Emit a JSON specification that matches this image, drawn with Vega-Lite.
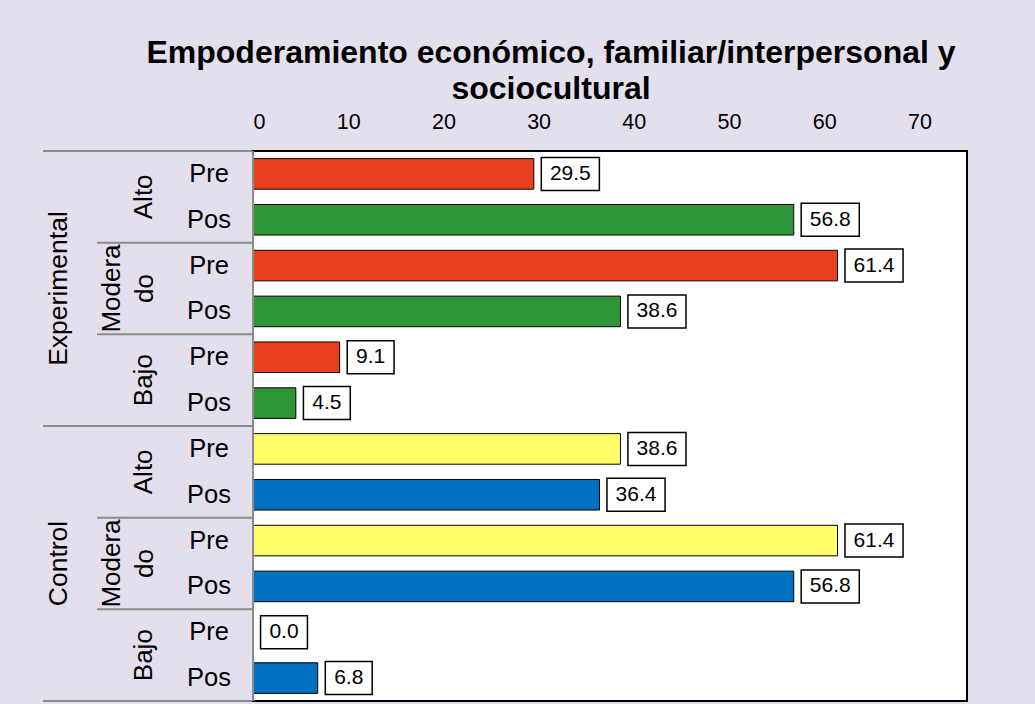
{
  "$schema": "https://vega.github.io/schema/vega-lite/v6.json",
  "background": "#E4DFEC",
  "padding": {"left": 42, "top": 37, "right": 69, "bottom": 4},
  "title": {
    "text": ["Empoderamiento económico, familiar/interpersonal y", "sociocultural"],
    "fontSize": 32, "fontWeight": "bold", "font": "Liberation Sans", "color": "#000",
    "anchor": "middle", "dx": 46, "lineHeight": 36, "offset": 4
  },
  "datasets": {
    "d": [
      {"id": "E-Alto-Pre", "grupo": "Experimental", "nivel": "Alto", "momento": "Pre", "valor": 29.5},
      {"id": "E-Alto-Pos", "grupo": "Experimental", "nivel": "Alto", "momento": "Pos", "valor": 56.8},
      {"id": "E-Mod-Pre", "grupo": "Experimental", "nivel": "Moderado", "momento": "Pre", "valor": 61.4},
      {"id": "E-Mod-Pos", "grupo": "Experimental", "nivel": "Moderado", "momento": "Pos", "valor": 38.6},
      {"id": "E-Bajo-Pre", "grupo": "Experimental", "nivel": "Bajo", "momento": "Pre", "valor": 9.1},
      {"id": "E-Bajo-Pos", "grupo": "Experimental", "nivel": "Bajo", "momento": "Pos", "valor": 4.5},
      {"id": "C-Alto-Pre", "grupo": "Control", "nivel": "Alto", "momento": "Pre", "valor": 38.6},
      {"id": "C-Alto-Pos", "grupo": "Control", "nivel": "Alto", "momento": "Pos", "valor": 36.4},
      {"id": "C-Mod-Pre", "grupo": "Control", "nivel": "Moderado", "momento": "Pre", "valor": 61.4},
      {"id": "C-Mod-Pos", "grupo": "Control", "nivel": "Moderado", "momento": "Pos", "valor": 56.8},
      {"id": "C-Bajo-Pre", "grupo": "Control", "nivel": "Bajo", "momento": "Pre", "valor": 0.0},
      {"id": "C-Bajo-Pos", "grupo": "Control", "nivel": "Bajo", "momento": "Pos", "valor": 6.8}
    ]
  },
  "spacing": 0,
  "bounds": "flush",
  "hconcat": [
    {
      "width": 54, "height": 550,
      "data": {"name": "d"},
      "layer": [
        {
          "transform": [{"filter": "datum.nivel === 'Alto' && datum.momento === 'Pre'"}],
          "mark": {"type": "rule", "color": "#8C8C8C", "strokeWidth": 2},
          "encoding": {"y": {"field": "id", "type": "nominal", "bandPosition": 0, "axis": null,
            "scale": {"type": "band", "paddingInner": 0, "paddingOuter": 0, "domain": ["E-Alto-Pre","E-Alto-Pos","E-Mod-Pre","E-Mod-Pos","E-Bajo-Pre","E-Bajo-Pos","C-Alto-Pre","C-Alto-Pos","C-Mod-Pre","C-Mod-Pos","C-Bajo-Pre","C-Bajo-Pos"]}}}
        },
        {
          "transform": [{"filter": "datum.id === 'C-Bajo-Pos'"}],
          "mark": {"type": "rule", "color": "#8C8C8C", "strokeWidth": 2},
          "encoding": {"y": {"field": "id", "type": "nominal", "bandPosition": 1, "axis": null,
            "scale": {"type": "band", "paddingInner": 0, "paddingOuter": 0, "domain": ["E-Alto-Pre","E-Alto-Pos","E-Mod-Pre","E-Mod-Pos","E-Bajo-Pre","E-Bajo-Pos","C-Alto-Pre","C-Alto-Pos","C-Mod-Pre","C-Mod-Pos","C-Bajo-Pre","C-Bajo-Pos"]}}}
        },
        {
          "transform": [{"filter": "datum.nivel === 'Moderado' && datum.momento === 'Pre'"}],
          "mark": {"type": "text", "angle": 270, "fontSize": 26.5, "dy": -11, "align": "center", "baseline": "middle", "color": "#000"},
          "encoding": {
            "y": {"field": "id", "type": "nominal", "bandPosition": 1, "axis": null,
              "scale": {"type": "band", "paddingInner": 0, "paddingOuter": 0, "domain": ["E-Alto-Pre","E-Alto-Pos","E-Mod-Pre","E-Mod-Pos","E-Bajo-Pre","E-Bajo-Pos","C-Alto-Pre","C-Alto-Pos","C-Mod-Pre","C-Mod-Pos","C-Bajo-Pre","C-Bajo-Pos"]}},
            "text": {"field": "grupo"}
          }
        }
      ]
    },
    {
      "width": 86, "height": 550,
      "data": {"name": "d"},
      "layer": [
        {
          "transform": [{"filter": "datum.momento === 'Pre'"}],
          "mark": {"type": "rule", "color": "#8C8C8C", "strokeWidth": 2},
          "encoding": {"y": {"field": "id", "type": "nominal", "bandPosition": 0, "axis": null,
            "scale": {"type": "band", "paddingInner": 0, "paddingOuter": 0, "domain": ["E-Alto-Pre","E-Alto-Pos","E-Mod-Pre","E-Mod-Pos","E-Bajo-Pre","E-Bajo-Pos","C-Alto-Pre","C-Alto-Pos","C-Mod-Pre","C-Mod-Pos","C-Bajo-Pre","C-Bajo-Pos"]}}}
        },
        {
          "transform": [{"filter": "datum.id === 'C-Bajo-Pos'"}],
          "mark": {"type": "rule", "color": "#8C8C8C", "strokeWidth": 2},
          "encoding": {"y": {"field": "id", "type": "nominal", "bandPosition": 1, "axis": null,
            "scale": {"type": "band", "paddingInner": 0, "paddingOuter": 0, "domain": ["E-Alto-Pre","E-Alto-Pos","E-Mod-Pre","E-Mod-Pos","E-Bajo-Pre","E-Bajo-Pos","C-Alto-Pre","C-Alto-Pos","C-Mod-Pre","C-Mod-Pos","C-Bajo-Pre","C-Bajo-Pos"]}}}
        },
        {
          "transform": [{"filter": "datum.momento === 'Pre' && datum.nivel !== 'Moderado'"}],
          "mark": {"type": "text", "angle": 270, "fontSize": 26, "dy": 4, "align": "center", "baseline": "middle", "color": "#000"},
          "encoding": {
            "y": {"field": "id", "type": "nominal", "bandPosition": 1, "axis": null,
              "scale": {"type": "band", "paddingInner": 0, "paddingOuter": 0, "domain": ["E-Alto-Pre","E-Alto-Pos","E-Mod-Pre","E-Mod-Pos","E-Bajo-Pre","E-Bajo-Pos","C-Alto-Pre","C-Alto-Pos","C-Mod-Pre","C-Mod-Pos","C-Bajo-Pre","C-Bajo-Pos"]}},
            "text": {"field": "nivel"}
          }
        },
        {
          "transform": [
            {"filter": "datum.momento === 'Pre' && datum.nivel === 'Moderado'"},
            {"calculate": "['Modera', 'do']", "as": "lbl"}
          ],
          "mark": {"type": "text", "angle": 270, "fontSize": 26, "dy": -28, "lineHeight": 33, "align": "center", "baseline": "middle", "color": "#000"},
          "encoding": {
            "y": {"field": "id", "type": "nominal", "bandPosition": 1, "axis": null,
              "scale": {"type": "band", "paddingInner": 0, "paddingOuter": 0, "domain": ["E-Alto-Pre","E-Alto-Pos","E-Mod-Pre","E-Mod-Pos","E-Bajo-Pre","E-Bajo-Pos","C-Alto-Pre","C-Alto-Pos","C-Mod-Pre","C-Mod-Pos","C-Bajo-Pre","C-Bajo-Pos"]}},
            "text": {"field": "lbl"}
          }
        }
      ]
    },
    {
      "width": 70, "height": 550,
      "data": {"name": "d"},
      "layer": [
        {
          "transform": [{"filter": "datum.momento === 'Pre'"}],
          "mark": {"type": "rule", "color": "#8C8C8C", "strokeWidth": 2},
          "encoding": {"y": {"field": "id", "type": "nominal", "bandPosition": 0, "axis": null,
            "scale": {"type": "band", "paddingInner": 0, "paddingOuter": 0, "domain": ["E-Alto-Pre","E-Alto-Pos","E-Mod-Pre","E-Mod-Pos","E-Bajo-Pre","E-Bajo-Pos","C-Alto-Pre","C-Alto-Pos","C-Mod-Pre","C-Mod-Pos","C-Bajo-Pre","C-Bajo-Pos"]}}}
        },
        {
          "transform": [{"filter": "datum.id === 'C-Bajo-Pos'"}],
          "mark": {"type": "rule", "color": "#8C8C8C", "strokeWidth": 2},
          "encoding": {"y": {"field": "id", "type": "nominal", "bandPosition": 1, "axis": null,
            "scale": {"type": "band", "paddingInner": 0, "paddingOuter": 0, "domain": ["E-Alto-Pre","E-Alto-Pos","E-Mod-Pre","E-Mod-Pos","E-Bajo-Pre","E-Bajo-Pos","C-Alto-Pre","C-Alto-Pos","C-Mod-Pre","C-Mod-Pos","C-Bajo-Pre","C-Bajo-Pos"]}}}
        },
        {
          "mark": {"type": "text", "fontSize": 25.5, "dx": -9, "align": "center", "baseline": "middle", "color": "#000"},
          "encoding": {
            "y": {"field": "id", "type": "nominal", "axis": null,
              "scale": {"type": "band", "paddingInner": 0, "paddingOuter": 0, "domain": ["E-Alto-Pre","E-Alto-Pos","E-Mod-Pre","E-Mod-Pos","E-Bajo-Pre","E-Bajo-Pos","C-Alto-Pre","C-Alto-Pos","C-Mod-Pre","C-Mod-Pos","C-Bajo-Pre","C-Bajo-Pos"]}},
            "text": {"field": "momento"}
          }
        }
      ]
    },
    {
      "width": 714, "height": 550,
      "view": {"fill": "white", "stroke": "black", "strokeWidth": 2},
      "data": {"name": "d"},
      "transform": [{"calculate": "datum.grupo + ' ' + datum.momento", "as": "serie"}],
      "encoding": {
        "x": {"field": "valor", "type": "quantitative",
          "scale": {"domain": [0, 75], "nice": false},
          "axis": {"orient": "top", "values": [0, 10, 20, 30, 40, 50, 60, 70], "ticks": false, "domain": false, "grid": false,
            "labelFontSize": 21.5, "labelPadding": 18, "labelColor": "#000", "title": null, "labelFont": "Liberation Sans"}}
      },
      "layer": [
        {
          "mark": {"type": "bar", "stroke": "#000", "strokeWidth": 1, "height": {"band": 0.667}},
          "encoding": {
            "y": {"field": "id", "type": "nominal", "axis": null,
              "scale": {"type": "band", "paddingInner": 0, "paddingOuter": 0, "domain": ["E-Alto-Pre","E-Alto-Pos","E-Mod-Pre","E-Mod-Pos","E-Bajo-Pre","E-Bajo-Pos","C-Alto-Pre","C-Alto-Pos","C-Mod-Pre","C-Mod-Pos","C-Bajo-Pre","C-Bajo-Pos"]}},
            "color": {"field": "serie", "type": "nominal", "legend": null,
              "scale": {"domain": ["Experimental Pre", "Experimental Pos", "Control Pre", "Control Pos"],
                        "range": ["#E8401C", "#2E9538", "#FFFF66", "#0070C0"]}}
          }
        },
        {
          "transform": [{"filter": "datum.valor >= 10"}],
          "mark": {"type": "point", "shape": "M-1.76,-1H1.76V1H-1.76Z", "size": 1089, "filled": true, "fill": "white", "stroke": "black", "strokeWidth": 1.5, "opacity": 1, "xOffset": 36.5},
          "encoding": {
            "y": {"field": "id", "type": "nominal", "axis": null,
              "scale": {"type": "band", "paddingInner": 0, "paddingOuter": 0, "domain": ["E-Alto-Pre","E-Alto-Pos","E-Mod-Pre","E-Mod-Pos","E-Bajo-Pre","E-Bajo-Pos","C-Alto-Pre","C-Alto-Pos","C-Mod-Pre","C-Mod-Pos","C-Bajo-Pre","C-Bajo-Pos"]}}
          }
        },
        {
          "transform": [{"filter": "datum.valor < 10"}],
          "mark": {"type": "point", "shape": "M-1.42,-1H1.42V1H-1.42Z", "size": 1089, "filled": true, "fill": "white", "stroke": "black", "strokeWidth": 1.5, "opacity": 1, "xOffset": 31},
          "encoding": {
            "y": {"field": "id", "type": "nominal", "axis": null,
              "scale": {"type": "band", "paddingInner": 0, "paddingOuter": 0, "domain": ["E-Alto-Pre","E-Alto-Pos","E-Mod-Pre","E-Mod-Pos","E-Bajo-Pre","E-Bajo-Pos","C-Alto-Pre","C-Alto-Pos","C-Mod-Pre","C-Mod-Pos","C-Bajo-Pre","C-Bajo-Pos"]}}
          }
        },
        {
          "transform": [{"filter": "datum.valor >= 10"}],
          "mark": {"type": "text", "fontSize": 21, "dx": 36.5, "align": "center", "baseline": "middle", "color": "#000"},
          "encoding": {
            "y": {"field": "id", "type": "nominal", "axis": null,
              "scale": {"type": "band", "paddingInner": 0, "paddingOuter": 0, "domain": ["E-Alto-Pre","E-Alto-Pos","E-Mod-Pre","E-Mod-Pos","E-Bajo-Pre","E-Bajo-Pos","C-Alto-Pre","C-Alto-Pos","C-Mod-Pre","C-Mod-Pos","C-Bajo-Pre","C-Bajo-Pos"]}},
            "text": {"field": "valor", "type": "quantitative", "format": ".1f"}
          }
        },
        {
          "transform": [{"filter": "datum.valor < 10"}],
          "mark": {"type": "text", "fontSize": 21, "dx": 31, "align": "center", "baseline": "middle", "color": "#000"},
          "encoding": {
            "y": {"field": "id", "type": "nominal", "axis": null,
              "scale": {"type": "band", "paddingInner": 0, "paddingOuter": 0, "domain": ["E-Alto-Pre","E-Alto-Pos","E-Mod-Pre","E-Mod-Pos","E-Bajo-Pre","E-Bajo-Pos","C-Alto-Pre","C-Alto-Pos","C-Mod-Pre","C-Mod-Pos","C-Bajo-Pre","C-Bajo-Pos"]}},
            "text": {"field": "valor", "type": "quantitative", "format": ".1f"}
          }
        },
        {
          "mark": {"type": "rule", "color": "#8C8C8C", "strokeWidth": 2},
          "encoding": {"x": {"datum": 0}}
        }
      ]
    }
  ],
  "config": {
    "font": "Liberation Sans",
    "view": {"stroke": null},
    "concat": {"spacing": 0}
  }
}
